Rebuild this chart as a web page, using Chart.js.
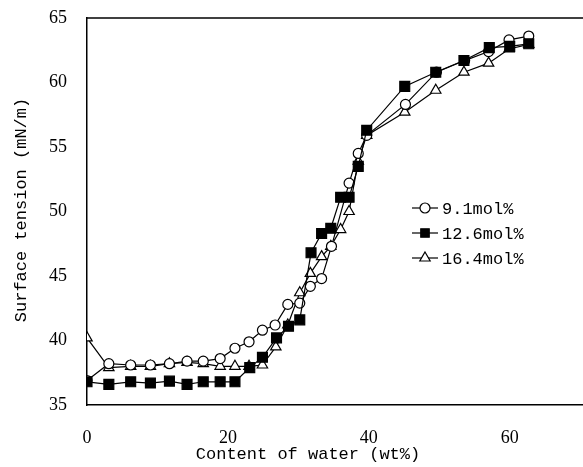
<!DOCTYPE html>
<html>
<head>
<meta charset="utf-8">
<script src="https://cdn.jsdelivr.net/npm/chart.js"></script>
<style>
  html, body { margin: 0; padding: 0; background: #fff; }
  #wrap { width: 583px; height: 467px; position: relative; }
</style>
</head>
<body>
<div id="wrap"><canvas id="chart"></canvas></div>
<script>
const xTicks = [0, 20, 40, 60];
const yTicks = [35, 40, 45, 50, 55, 60, 65];

const labels = ["9.1mol%", "12.6mol%", "16.4mol%"];

const water91 = [0, 3.1, 6.2, 9.0, 11.7, 14.2, 16.5, 18.9, 21.0, 23.0, 24.9, 26.7, 28.5, 30.2, 31.7, 33.3, 34.7, 37.2, 38.5, 39.7, 45.2, 49.6, 53.6, 57.0, 59.9, 62.7];
const tension91 = [36.9, 38.2, 38.1, 38.1, 38.2, 38.4, 38.4, 38.6, 39.4, 39.9, 40.8, 41.2, 42.8, 42.9, 44.2, 44.8, 47.3, 52.2, 54.5, 55.9, 58.3, 60.8, 61.7, 62.4, 63.3, 63.6];

const water126 = [0, 3.1, 6.2, 9.0, 11.7, 14.2, 16.5, 18.9, 21.0, 23.1, 24.9, 26.9, 28.6, 30.2, 31.8, 33.3, 34.6, 36.0, 37.2, 38.5, 39.7, 45.1, 49.5, 53.5, 57.1, 60.0, 62.7];
const tension126 = [36.8, 36.6, 36.8, 36.7, 36.85, 36.6, 36.8, 36.8, 36.8, 37.9, 38.7, 40.2, 41.1, 41.6, 46.8, 48.3, 48.7, 51.1, 51.1, 53.5, 56.3, 59.7, 60.8, 61.7, 62.7, 62.8, 63.0];

const water164 = [0, 3.1, 6.2, 9.0, 11.7, 14.2, 16.5, 18.9, 21.0, 23.0, 24.9, 26.8, 28.5, 30.2, 31.7, 33.3, 34.6, 36.0, 37.2, 38.5, 39.7, 45.1, 49.5, 53.5, 57.0, 59.9, 62.7];
const tension164 = [40.2, 37.9, 38.0, 38.0, 38.2, 38.3, 38.2, 38.0, 38.0, 38.0, 38.1, 39.5, 41.2, 43.7, 45.2, 46.5, 47.3, 48.6, 50.0, 53.9, 55.9, 57.7, 59.4, 60.8, 61.5, 62.6, 62.95];

function points(xs, ys) {
  return xs.map((x, i) => ({ x, y: ys[i] }));
}

const markerStyles = [
  { pointStyle: "circle", radius: 5, fill: "#ffffff" },
  { pointStyle: "rect", radius: 7, fill: "#000000" },
  { pointStyle: "triangle", radius: 6, fill: "#ffffff" },
];

function makeDataset(label, data, idx, order) {
  const m = markerStyles[idx];
  return {
    label,
    data,
    showLine: true,
    borderColor: "#000000",
    borderWidth: 1.2,
    pointStyle: m.pointStyle,
    pointRadius: m.radius,
    pointBackgroundColor: m.fill,
    pointBorderColor: "#000000",
    pointBorderWidth: 1.2,
    order,
  };
}

const frameAndText = {
  id: "frameAndText",
  afterDraw(chart) {
    const { ctx, chartArea } = chart;
    ctx.save();
    // top border line
    ctx.strokeStyle = "#000";
    ctx.lineWidth = 1.5;
    ctx.beginPath();
    ctx.moveTo(chartArea.left, chartArea.top);
    ctx.lineTo(chartArea.right, chartArea.top);
    ctx.stroke();

    // axis titles
    ctx.fillStyle = "#000";
    ctx.font = '17px "Liberation Mono", monospace';
    ctx.textAlign = "center";
    ctx.textBaseline = "middle";
    ctx.fillText("Content of water (wt%)", 308, 454);
    ctx.translate(21, 210);
    ctx.rotate(-Math.PI / 2);
    ctx.fillText("Surface tension (mN/m)", 0, 0);
    ctx.restore();

    // legend
    ctx.save();
    const legendY = [208, 233, 258];
    chart.data.datasets.forEach((ds, i) => {
      const y = legendY[i];
      ctx.strokeStyle = "#000";
      ctx.lineWidth = 1.2;
      ctx.beginPath();
      ctx.moveTo(412, y);
      ctx.lineTo(438, y);
      ctx.stroke();
      ctx.fillStyle = ds.pointBackgroundColor;
      ctx.strokeStyle = "#000";
      ctx.lineWidth = 1.2;
      const r = ds.pointStyle === "rect" ? 6 : ds.pointRadius;
      Chart.helpers.drawPoint(ctx, { pointStyle: ds.pointStyle, radius: r, borderWidth: 1.2, rotation: 0 }, 425, y);
      ctx.fillStyle = "#000";
      ctx.font = '17px "Liberation Mono", monospace';
      ctx.textAlign = "left";
      ctx.textBaseline = "middle";
      ctx.fillText(ds.label, 442, y + 1);
    });
    ctx.restore();
  },
};

new Chart(document.getElementById("chart"), {
  type: "scatter",
  data: {
    datasets: [
      makeDataset(labels[0], points(water91, tension91), 0, 1),
      makeDataset(labels[1], points(water126, tension126), 1, 0),
      makeDataset(labels[2], points(water164, tension164), 2, 2),
    ],
  },
  options: {
    responsive: true,
    maintainAspectRatio: false,
    animation: false,
    layout: { autoPadding: false, padding: { top: 18, right: 0, left: 0, bottom: 0 } },
    plugins: {
      legend: { display: false },
      tooltip: { enabled: false },
    },
    scales: {
      x: {
        type: "linear",
        min: 0,
        max: 70.4,
        afterBuildTicks(scale) {
          scale.ticks = xTicks.map((v) => ({ value: v }));
        },
        afterFit(scale) {
          scale.height = 62;
          scale.paddingLeft = 0;
          scale.paddingRight = 0;
        },
        border: { color: "#000", width: 1.5 },
        grid: { display: false, drawTicks: false },
        ticks: {
          color: "#000",
          padding: 22,
          maxRotation: 0,
          font: { family: '"Liberation Serif", serif', size: 18 },
        },
      },
      y: {
        type: "linear",
        min: 35,
        max: 65,
        afterBuildTicks(scale) {
          scale.ticks = yTicks.map((v) => ({ value: v }));
        },
        afterFit(scale) {
          scale.width = 87;
          scale.paddingTop = 0;
          scale.paddingBottom = 0;
        },
        border: { color: "#000", width: 1.5 },
        grid: { display: false, drawTicks: false },
        ticks: {
          color: "#000",
          padding: 20,
          font: { family: '"Liberation Serif", serif', size: 18 },
        },
      },
    },
  },
  plugins: [frameAndText],
});
</script>
</body>
</html>
